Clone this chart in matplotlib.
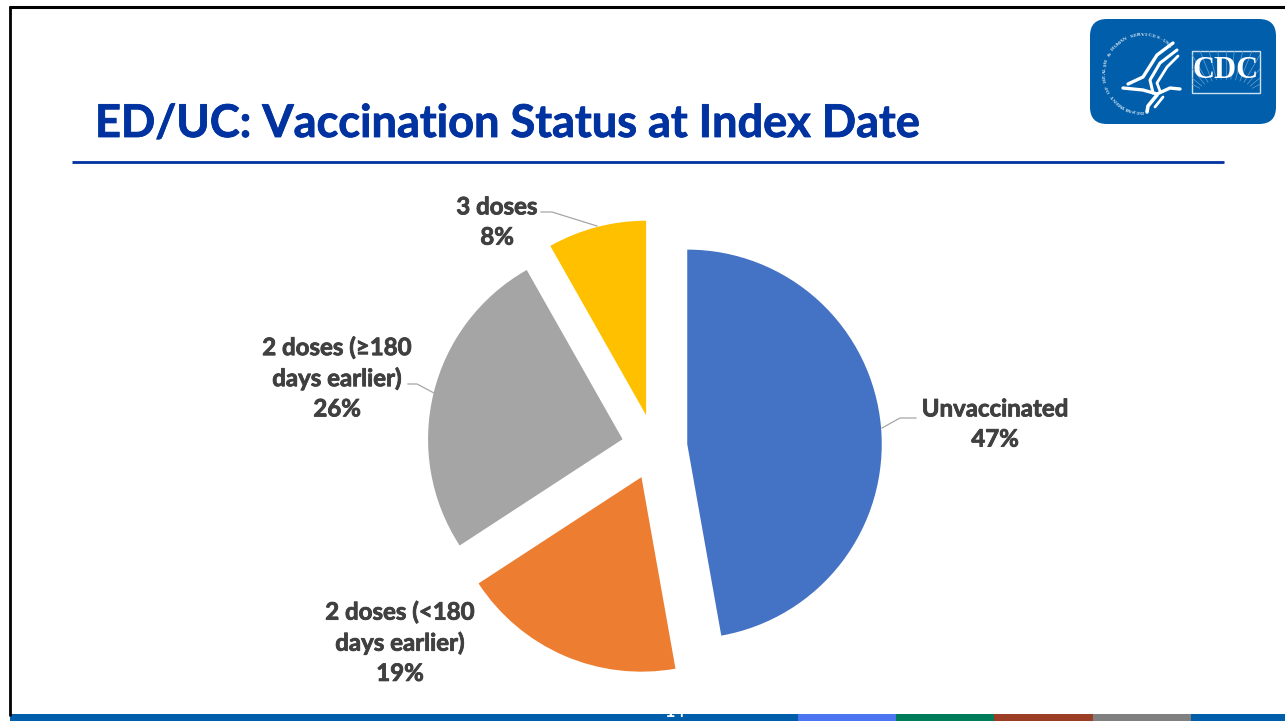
import numpy as np
import matplotlib
matplotlib.use("Agg")
import matplotlib.pyplot as plt
import matplotlib.patheffects as pe
from matplotlib.patches import FancyBboxPatch, Rectangle

categories = ["Unvaccinated", "2 doses (<180\ndays earlier)", "2 doses (≥180\ndays earlier)", "3 doses"]
shares = [47.2, 18.6, 26.0, 8.2]
colors = ["#4472C4", "#ED7D31", "#A5A5A5", "#FFC000"]
title_text = "ED/UC: Vaccination Status at Index Date"
page_number = "14"
footer_colors = ["#4C75F2", "#007C5A", "#9C3D26", "#808080"]

plt.rcParams["font.family"] = ["Lato", "Open Sans", "DejaVu Sans"]
W, H = 1285, 721
fig = plt.figure(figsize=(W / 100, H / 100), dpi=100, facecolor="white")

# overlay in pixel coordinates for the slide furniture
bg = fig.add_axes([0, 0, 1, 1])
bg.set_xlim(0, W)
bg.set_ylim(H, 0)
bg.axis("off")

bg.plot([9, W], [7, 7], color="black", lw=2.2, solid_capstyle="butt")
bg.plot([9.5, 9.5], [6, 716], color="black", lw=2.0, solid_capstyle="butt")
bg.text(95, 124, title_text, fontsize=32.5, fontweight="bold", color="#0033A0", va="center", ha="left",
        path_effects=[pe.withStroke(linewidth=0.6, foreground="#0033A0")])
bg.plot([72, 1224], [161.5, 161.5], color="#0033A0", lw=2.0, solid_capstyle="butt")

# footer
bg.add_patch(Rectangle((10, 714), W - 10, 7, color="#005EAA", lw=0))
for i, c in enumerate(footer_colors):
    bg.add_patch(Rectangle((798 + i * 98.2, 714), 98.2, 7, color=c, lw=0))
bg.text(675, 717, page_number, fontsize=13, fontweight="bold", color="white", ha="center", va="baseline")

# logo
bg.add_patch(FancyBboxPatch((1090, 19), 186, 105, boxstyle="round,pad=0,rounding_size=17", lw=0, color="#005EAA"))
bg.add_patch(Rectangle((1192, 51), 68, 42, fill=False, ec="#cfe0f0", lw=1))
box_clip = Rectangle((1192, 51), 68, 42, transform=bg.transData)
for a in np.linspace(20, 160, 15):
    t = np.radians(a)
    ray, = bg.plot([1226 + 28 * np.cos(t), 1226 + 60 * np.cos(t)], [93 - 14 * np.sin(t), 93 - 60 * np.sin(t)],
                   color="#6fa0cf", lw=0.5)
    ray.set_clip_path(box_clip)
bg.text(1226, 70, "CDC", fontsize=22, fontweight="bold", color="white", ha="center", va="center",
        family=["Liberation Serif", "DejaVu Serif"])

# ring lettering around the eagle
ring = "DEPARTMENT OF HEALTH & HUMAN SERVICES-USA"
cx, cy, r = 1143, 73, 38
for i, ch in enumerate(ring):
    a = np.radians(268 - i * 222 / (len(ring) - 1))
    bg.text(cx + r * np.cos(a), cy - r * np.sin(a), ch, fontsize=3.9, color="#e4eef7", ha="center", va="center",
            rotation=np.degrees(a) - 90, family="Liberation Serif", fontweight="bold")

# eagle strokes
for pts, lw in [
    ([(1173, 43), (1157, 55), (1143, 77), (1128, 84)], 2.4),
    ([(1177, 50), (1160, 63), (1150, 80), (1153, 93)], 2.2),
    ([(1178, 56), (1167, 67), (1157, 83), (1160, 91)], 2.0),
    ([(1123, 88), (1143, 90), (1157, 94), (1170, 88), (1180, 89)], 2.4),
    ([(1157, 95), (1148, 106), (1147, 112)], 2.6),
    ([(1163, 97), (1155, 107)], 2.0),
]:
    p = np.array(pts)
    bg.plot(p[:, 0], p[:, 1], color="white", lw=lw, solid_capstyle="round", solid_joinstyle="round")

# pie: 1 unit = 194.5 px, centred at (654.5, 447)
half = 1.25 * 194.5
ax = fig.add_axes([(654.5 - half) / W, (H - 447 - half) / H, 2 * half / W, 2 * half / H])
ax.pie(shares, colors=colors, explode=[0.169] * 4, startangle=90, counterclock=False,
       wedgeprops={"linewidth": 0})

# labels and leader lines on top
top = fig.add_axes([0, 0, 1, 1])
top.set_xlim(0, W)
top.set_ylim(H, 0)
top.axis("off")
label_pos = [(995, 424), (400, 642.5), (337, 378), (497, 222)]
leaders = [
    [(882, 428), (900, 418), (916, 418)],
    None,
    [(434, 393), (417, 384), (408, 384)],
    [(597, 226), (552, 212), (541, 212)],
]
for name, v, pos, lead in zip(categories, shares, label_pos, leaders):
    top.text(pos[0], pos[1], f"{name}\n{v:.0f}%", fontsize=17.3, fontweight="bold", color="#404040",
             ha="center", va="center", linespacing=1.38,
             path_effects=[pe.withStroke(linewidth=0.6, foreground="#404040")])
    if lead:
        p = np.array(lead)
        top.plot(p[:, 0], p[:, 1], color="#A6A6A6", lw=0.9)

fig.savefig("out.png", dpi=100)
